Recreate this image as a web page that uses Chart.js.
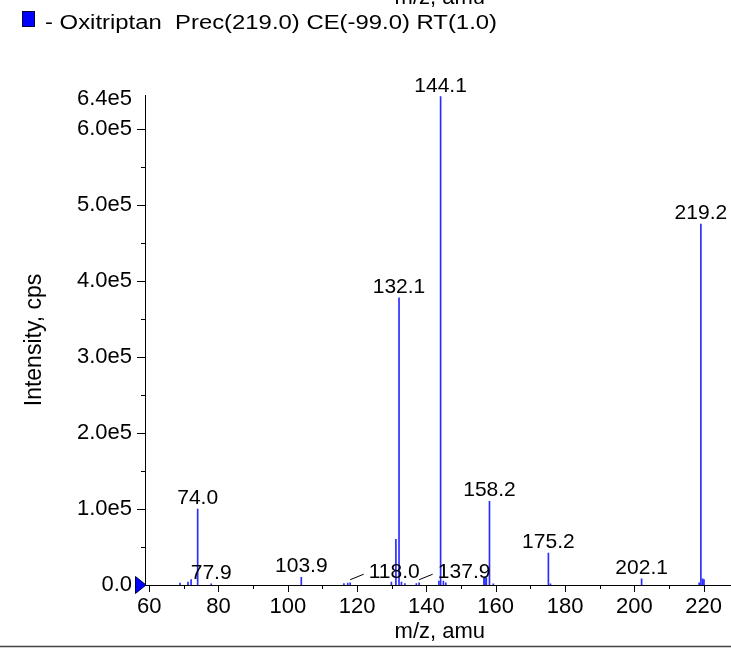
<!DOCTYPE html>
<html>
<head>
<meta charset="utf-8">
<script src="https://cdn.jsdelivr.net/npm/chart.js@4.4.1/dist/chart.umd.min.js"></script>
<style>
html,body{margin:0;padding:0;background:#ffffff;}
#wrap{width:731px;height:651px;position:relative;}
</style>
</head>
<body>
<div id="wrap"><canvas id="c" width="731" height="651"></canvas></div>
<script>
// ---- data ----
const seriesName = 'Oxitriptan';
const legendText = '- Oxitriptan  Prec(219.0) CE(-99.0) RT(1.0)';
const xTitle = 'm/z, amu';
const yTitle = 'Intensity, cps';
const mzValues = [68.9, 71.2, 72.1, 74.0, 77.9, 103.9, 116.2, 117.3, 118.0, 129.9, 131.2, 132.1, 132.8, 133.8,
                  137.1, 137.9, 143.6, 144.1, 144.9, 145.6, 156.6, 156.9, 157.3, 158.2, 159.3, 175.2, 175.8,
                  202.1, 218.7, 219.2, 219.7, 220.1];
const intensities = [2500, 4000, 7000, 100000, 1500, 10000, 2000, 2500, 3000, 4000, 60000, 378000, 4000, 2000,
                     2000, 3000, 5000, 643000, 5000, 3000, 9000, 10500, 9000, 110000, 1500, 42000, 1500,
                     8000, 3000, 475000, 8000, 7000];
const labeledPeaks = [74.0, 77.9, 103.9, 118.0, 132.1, 137.9, 144.1, 158.2, 175.2, 202.1, 219.2];
const xTickValues = [60, 70, 80, 90, 100, 110, 120, 130, 140, 150, 160, 170, 180, 190, 200, 210, 220];
const yTickValues = [0, 50000, 100000, 150000, 200000, 250000, 300000, 350000, 400000, 450000, 500000, 550000, 600000, 640000];

const FONT = '"Liberation Sans", Arial, Helvetica, sans-serif';

const decor = {
  id: 'decor',
  afterDraw(chart) {
    const ctx = chart.ctx;
    const xs = chart.scales.x, ys = chart.scales.y;
    const area = chart.chartArea;
    ctx.save();
    ctx.strokeStyle = '#000';
    ctx.lineWidth = 1;
    // x tick marks
    xTickValues.forEach(v => {
      const px = Math.round(xs.getPixelForValue(v)) + 0.5;
      const len = (v % 20 === 0) ? 7 : 4;
      ctx.beginPath(); ctx.moveTo(px, area.bottom); ctx.lineTo(px, area.bottom + len); ctx.stroke();
    });
    // y tick marks
    yTickValues.forEach(v => {
      if (v > 600000) return;
      const py = Math.round(ys.getPixelForValue(v)) + 0.5;
      const len = (v % 100000 === 0) ? 8 : 4;
      ctx.beginPath(); ctx.moveTo(area.left - len, py); ctx.lineTo(area.left, py); ctx.stroke();
    });
    // peak labels
    const callout = {'118': 44, '137.9': 45};
    ctx.fillStyle = '#000';
    ctx.font = '21px ' + FONT;
    ctx.textAlign = 'center';
    ctx.textBaseline = 'alphabetic';
    labeledPeaks.forEach(mz => {
      const i = mzValues.indexOf(mz);
      if (i < 0) return;
      const px = xs.getPixelForValue(mz);
      const py = ys.getPixelForValue(intensities[i]);
      const dx = callout[String(mz)] || 0;
      if (dx) {
        ctx.beginPath(); ctx.moveTo(px, py - 3); ctx.lineTo(px + 13.5, py - 8.5); ctx.stroke();
      }
      ctx.fillText(mz.toFixed(1), px + dx, py - 5);
    });
    // precursor marker
    const p0 = ys.getPixelForValue(0);
    ctx.beginPath();
    ctx.moveTo(area.left - 9.5, p0 - 8.5);
    ctx.lineTo(area.left - 9.5, p0 + 8.5);
    ctx.lineTo(area.left + 1, p0);
    ctx.closePath();
    ctx.fillStyle = '#0000ff';
    ctx.fill();
    ctx.strokeStyle = '#000050';
    ctx.stroke();
    // axis titles
    ctx.fillStyle = '#000';
    ctx.font = '22px ' + FONT;
    ctx.textAlign = 'center';
    ctx.textBaseline = 'middle';
    ctx.fillText(xTitle, (area.left + area.right) / 2 + 2, 632);
    ctx.save();
    ctx.translate(35, (area.top + area.bottom) / 2);
    ctx.rotate(-Math.PI / 2);
    ctx.font = '23px ' + FONT;
    ctx.fillText(yTitle, 0, 0);
    ctx.restore();
    // cut-off title of the panel above
    ctx.textBaseline = 'alphabetic';
    ctx.font = '22px ' + FONT;
    ctx.fillText(xTitle, (area.left + area.right) / 2 + 2, 4);
    // legend
    ctx.fillStyle = '#0000ff';
    ctx.fillRect(22.5, 11.5, 12, 15);
    ctx.strokeStyle = '#000040';
    ctx.strokeRect(22.5, 11.5, 12, 15);
    ctx.save();
    ctx.font = '20px ' + FONT;
    ctx.fillStyle = '#000';
    ctx.textAlign = 'left';
    ctx.textBaseline = 'alphabetic';
    const w = ctx.measureText(legendText).width;
    ctx.translate(45, 29);
    ctx.scale(452 / w, 1);
    ctx.fillText(legendText, 0, 0);
    ctx.restore();
    // bottom rule
    ctx.strokeStyle = '#444';
    ctx.lineWidth = 1.5;
    ctx.beginPath(); ctx.moveTo(0, 646.5); ctx.lineTo(731, 646.5); ctx.stroke();
    ctx.restore();
  }
};

new Chart(document.getElementById('c').getContext('2d'), {
  type: 'bar',
  data: {
    datasets: [{
      label: seriesName,
      data: mzValues.map((m, i) => ({x: m, y: intensities[i]})),
      backgroundColor: '#2b2bff',
      borderWidth: 0,
      barThickness: 1,
      grouped: false
    }]
  },
  options: {
    responsive: false,
    animation: false,
    devicePixelRatio: 1,
    layout: {padding: {top: 95, left: 0, right: 0, bottom: 0}},
    plugins: {legend: {display: false}, tooltip: {enabled: false}},
    scales: {
      x: {
        type: 'linear', min: 58.8, max: 227.8, offset: false,
        grid: {display: false, drawTicks: false},
        border: {display: true, color: '#000', width: 1},
        afterBuildTicks: s => { s.ticks = xTickValues.map(v => ({value: v})); },
        ticks: {
          autoSkip: false, maxRotation: 0, minRotation: 0, padding: 9, color: '#000',
          font: {family: FONT, size: 22},
          callback: v => (v % 20 === 0 ? String(v) : '')
        },
        afterFit: s => { s.height = 66; }
      },
      y: {
        type: 'linear', min: 0, max: 645000,
        grid: {display: false, drawTicks: false},
        border: {display: true, color: '#000', width: 1},
        afterBuildTicks: s => { s.ticks = yTickValues.map(v => ({value: v})); },
        ticks: {
          autoSkip: false, padding: 13, color: '#000',
          font: {family: FONT, size: 22},
          callback: v => {
            if (v === 0) return '0.0';
            if (v === 640000) return '6.4e5';
            if (v % 100000 === 0) return (v / 100000).toFixed(1) + 'e5';
            return '';
          }
        },
        afterFit: s => { s.width = 145; }
      }
    }
  },
  plugins: [decor]
});
</script>
</body>
</html>
